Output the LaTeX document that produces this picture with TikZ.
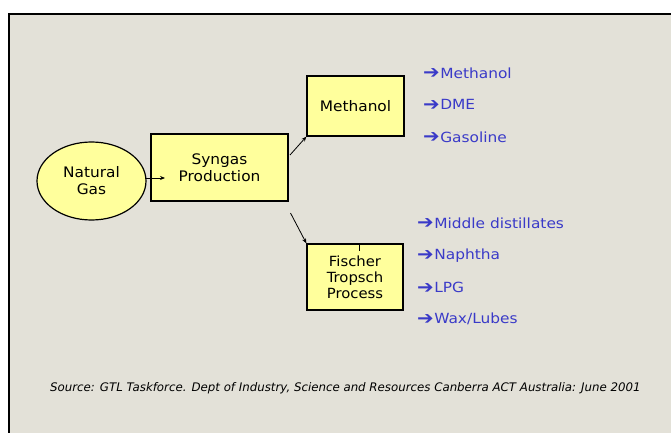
\documentclass[tikz,border=0pt]{standalone}
\usepackage{fontspec}
\setmainfont{DejaVu Sans}
\newfontfamily\itemfont[FakeStretch=1.1]{DejaVu Sans}
\newfontfamily\boxfont[FakeStretch=1.06]{DejaVu Sans}
\usetikzlibrary{arrows.meta,shapes.geometric}
\definecolor{bg}{HTML}{E3E1D8}
\definecolor{boxfill}{HTML}{FFFF9C}
\definecolor{itemblue}{HTML}{3A3AC8}
\tikzset{
  procbox/.style={draw=black, line width=1.2pt, fill=boxfill, inner sep=0pt, align=center, font=\boxfont\fontsize{14.5}{17}\selectfont},
  item/.style={anchor=west, inner sep=0pt, text=itemblue, font=\itemfont\fontsize{14}{16}\selectfont},
  conn/.style={line width=0.8pt, -{Stealth[length=5pt,width=4pt]}},
}
\newcommand{\itemarrow}{\raisebox{-0.5pt}{\fontsize{18}{18}\selectfont ➔}\kern0.5pt}
\begin{document}
\begin{tikzpicture}[x=1pt,y=-1pt]
\useasboundingbox (0,0) rectangle (671,433);
\fill[white] (0,0) rectangle (671,433);
\fill[bg] (9,14) rectangle (671,433);
\draw[line width=2pt] (9,433) -- (9,14) -- (671,14);
% nodes
\node[procbox, ellipse, minimum width=109pt, minimum height=78pt] (ng) at (91.5,181) {Natural\\Gas};
\node[procbox, rectangle, minimum width=137pt, minimum height=67pt] (sp) at (219.5,167.5) {Syngas\\Production};
\node[procbox, rectangle, minimum width=97pt, minimum height=60pt] (me) at (355.5,106) {Methanol};
\node[procbox, rectangle, minimum width=96pt, minimum height=66pt, font=\boxfont\fontsize{14}{16}\selectfont] (ft) at (355,277) {Fischer\\Tropsch\\Process};
\coordinate (ngout) at (145,178);
\coordinate (spin) at (165,178);
\coordinate (s1) at (290,155);
\coordinate (s2) at (290.5,213);
\draw[line width=0.8pt] (359.5,244) -- (359.5,251);
% connectors
\draw[conn] (ngout) -- (spin);
\draw[conn] (s1) -- (me.south west);
\draw[conn] (s2) -- (ft.north west);
% items
\node[item] (i1) at (423,73) {\itemarrow Methanol};
\node[item] (i2) at (423,105) {\itemarrow DME};
\node[item] (i3) at (423,137) {\itemarrow Gasoline};
\node[item] (j1) at (417,223) {\itemarrow Middle distillates};
\node[item] (j2) at (417,256) {\itemarrow Naphtha};
\node[item] (j3) at (417,288) {\itemarrow LPG};
\node[item] (j4) at (417,319) {\itemarrow Wax/Lubes};
\node[anchor=west, inner sep=0pt, font=\fontsize{11.8}{13}\selectfont\itshape] (src) at (50,388) {Source: GTL Taskforce. Dept of Industry, Science and Resources Canberra ACT Australia: June 2001};
\end{tikzpicture}
\end{document}
